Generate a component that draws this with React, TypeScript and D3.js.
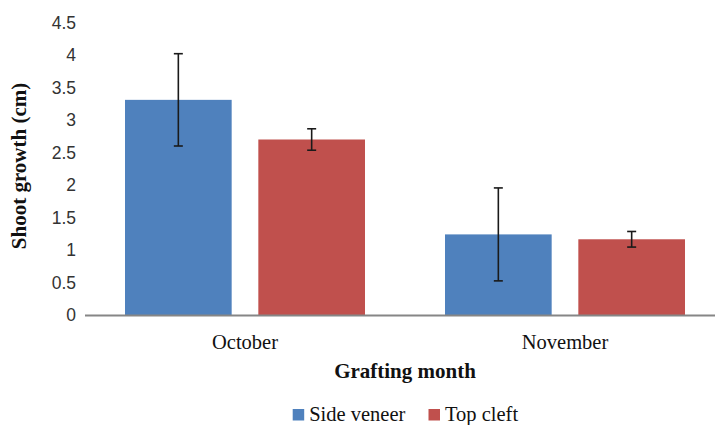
import React from "react";
import * as d3 from "d3";

const categories = ["October", "November"];
const seriesNames = ["Side veneer", "Top cleft"];
const sideVeneer = [3.31, 1.24];
const sideVeneerErr = [0.71, 0.715];
const topCleft = [2.7, 1.165];
const topCleftErr = [0.165, 0.12];
const yTicks = [0, 0.5, 1, 1.5, 2, 2.5, 3, 3.5, 4, 4.5];
const colors = ["#4F81BD", "#C0504D"];

const W = 715;
const H = 425;
const serif = "'Liberation Serif', 'Times New Roman', serif";
const sans = "'Liberation Sans', Arial, sans-serif";

export default function App() {
  const x = d3.scaleBand<string>().domain(categories).range([85, 725]).padding(0);
  const xSub = d3
    .scaleBand<string>()
    .domain(seriesNames)
    .range([40, x.bandwidth() - 40])
    .paddingInner(0.2)
    .paddingOuter(0);
  const y = d3.scaleLinear().domain([0, 4.5]).range([315, 22.5]);

  const values = [sideVeneer, topCleft];
  const errs = [sideVeneerErr, topCleftErr];

  return (
    <svg
      width={W}
      height={H}
      style={{ position: "absolute", left: 0, top: 0, background: "#fff" }}
    >
      <rect x={0} y={0} width={W} height={H} fill="#fff" />
      {yTicks.map((t) => (
        <text
          key={t}
          x={76}
          y={y(t)}
          dy="0.35em"
          textAnchor="end"
          fontFamily={sans}
          fontSize={17.5}
          fill="#333"
        >
          {String(t)}
        </text>
      ))}
      {categories.map((c, ci) =>
        seriesNames.map((s, si) => {
          const bx = (x(c) as number) + (xSub(s) as number);
          const v = values[si][ci];
          return (
            <rect
              key={c + s}
              x={bx}
              y={y(v)}
              width={xSub.bandwidth()}
              height={y(0) - y(v)}
              fill={colors[si]}
            />
          );
        })
      )}
      <line x1={85} x2={725} y1={315.5} y2={315.5} stroke="#868686" strokeWidth={2} />
      {categories.map((c, ci) =>
        seriesNames.map((s, si) => {
          const cx = (x(c) as number) + (xSub(s) as number) + xSub.bandwidth() / 2;
          const v = values[si][ci];
          const e = errs[si][ci];
          const yt = y(v + e);
          const yb = y(v - e);
          return (
            <g key={"e" + c + s} stroke="#1a1a1a" strokeWidth={1.6}>
              <line x1={cx} x2={cx} y1={yt} y2={yb} />
              <line x1={cx - 4.5} x2={cx + 4.5} y1={yt} y2={yt} />
              <line x1={cx - 4.5} x2={cx + 4.5} y1={yb} y2={yb} />
            </g>
          );
        })
      )}
      {categories.map((c) => (
        <text
          key={c}
          x={(x(c) as number) + x.bandwidth() / 2}
          y={349}
          textAnchor="middle"
          fontFamily={serif}
          fontSize={20.5}
          fill="#111"
        >
          {c}
        </text>
      ))}
      <text
        x={405}
        y={378}
        textAnchor="middle"
        fontFamily={serif}
        fontSize={21}
        fontWeight="bold"
        fill="#111"
      >
        Grafting month
      </text>
      <text
        transform={`translate(26,166) rotate(-90)`}
        textAnchor="middle"
        fontFamily={serif}
        fontSize={21}
        fontWeight="bold"
        fill="#111"
      >
        Shoot growth (cm)
      </text>
      {seriesNames.map((s, i) => {
        const lx = [292.7, 428.5][i];
        return (
          <g key={"leg" + s}>
            <rect x={lx} y={409} width={11.5} height={11.5} fill={colors[i]} />
            <text x={lx + 16.5} y={420.5} fontFamily={serif} fontSize={20.5} fill="#111">
              {s}
            </text>
          </g>
        );
      })}
    </svg>
  );
}
